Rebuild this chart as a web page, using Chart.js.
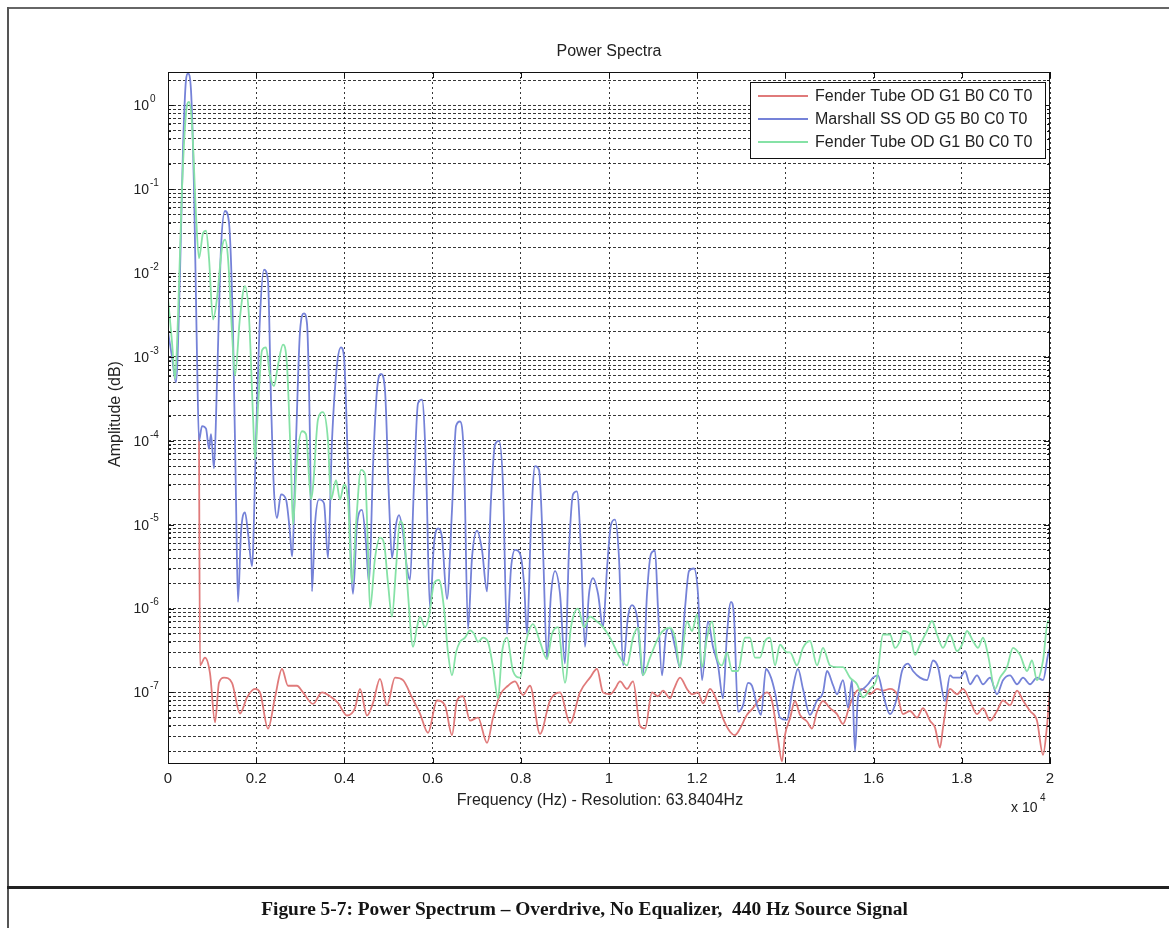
<!DOCTYPE html>
<html><head><meta charset="utf-8">
<script src="https://cdn.jsdelivr.net/npm/chart.js@4.4.0/dist/chart.umd.min.js"></script>
<style>
html,body{margin:0;padding:0;background:#fff;width:1169px;height:928px;overflow:hidden;}
#frameTop{position:absolute;left:7px;top:7px;width:1162px;height:2px;background:#666;}
#frameLeft{position:absolute;left:7px;top:7px;width:2px;height:921px;background:#555;}
#frameBottom{position:absolute;left:7px;top:886px;width:1162px;height:3px;background:#222;}
#wrap{position:absolute;left:0;top:0;width:1169px;height:880px;}
#caption{position:absolute;left:0;top:898px;width:1169px;text-align:center;font:bold 19.4px "Liberation Serif","Times New Roman",serif;color:#151515;white-space:pre;}
</style></head>
<body>
<div id="wrap"><canvas id="c" width="1169" height="880"></canvas></div>
<div id="frameTop"></div><div id="frameLeft"></div><div id="frameBottom"></div>
<div id="caption">Figure 5-7: Power Spectrum – Overdrive, No Equalizer,  440 Hz Source Signal</div>
<script>
// ---- data (frequency Hz, amplitude) ----
const seriesLabels = ['Fender Tube OD G1 B0 C0 T0','Marshall SS OD G5 B0 C0 T0','Fender Tube OD G1 B0 C0 T0'];
const seriesColors = ['#e07a7a','#7582d8','#86e2a6'];
const xTickValues = [0,2000,4000,6000,8000,10000,12000,14000,16000,18000,20000];
const xTickLabels = ['0','0.2','0.4','0.6','0.8','1','1.2','1.4','1.6','1.8','2'];
const yDecades = [-8,-7,-6,-5,-4,-3,-2,-1,0];
const yLabelDecades = [-7,-6,-5,-4,-3,-2,-1,0];
const yMin = 1.4e-8, yMax = 2.5;

const redSpectrum = [[703,1.2e-4],[726,2.1e-7],[839,2.6e-7],[952,1.7e-7],[1066,4.4e-8],[1156,1.3e-7],[1270,1.5e-7],[1451,1.3e-7],[1633,5.6e-8],[1791,8.7e-8],[1973,1.1e-7],[2086,1e-7],[2268,3.7e-8],[2426,8.7e-8],[2585,1.9e-7],[2721,1.2e-7],[2925,1.2e-7],[3061,1e-7],[3288,7.3e-8],[3492,1e-7],[3674,9e-8],[3855,7.5e-8],[4059,5.3e-8],[4240,6.5e-8],[4354,1.1e-7],[4513,5.3e-8],[4649,7.5e-8],[4807,1.45e-7],[4966,7e-8],[5147,1.5e-7],[5329,1.4e-7],[5533,8.7e-8],[5714,5.6e-8],[5896,3.3e-8],[6100,8e-8],[6281,7e-8],[6440,3.1e-8],[6553,8e-8],[6689,9e-8],[6848,4.6e-8],[7030,5e-8],[7234,2.5e-8],[7370,5e-8],[7528,9.3e-8],[7710,1.2e-7],[7869,1.35e-7],[8050,9.3e-8],[8209,1.2e-7],[8435,3.2e-8],[8662,8e-8],[8889,1e-7],[9116,4.3e-8],[9342,1e-7],[9569,1.5e-7],[9728,1.9e-7],[9864,1e-7],[10023,9.5e-8],[10136,1.1e-7],[10250,1.35e-7],[10408,1.1e-7],[10545,1.35e-7],[10703,4e-8],[10817,3.7e-8],[10975,1e-7],[11111,9e-8],[11225,1.05e-7],[11384,8.5e-8],[11474,1.1e-7],[11610,1.5e-7],[11769,1.1e-7],[11882,9.5e-8],[12018,1e-7],[12132,7.4e-8],[12290,1.1e-7],[12449,7.9e-8],[12585,4.9e-8],[12744,3.4e-8],[12857,3.1e-8],[12970,3.7e-8],[13129,5.4e-8],[13265,6.5e-8],[13424,8.5e-8],[13583,1e-7],[13696,7.9e-8],[13832,2.8e-8],[13923,1.5e-8],[13991,3.1e-8],[14104,4.9e-8],[14218,7.9e-8],[14331,5.4e-8],[14490,4.5e-8],[14603,3.7e-8],[14717,5.9e-8],[14853,7.9e-8],[15011,6.5e-8],[15170,5.5e-8],[15306,4.2e-8],[15465,7.2e-8],[15624,1.05e-7],[15760,1.1e-7],[15918,9.5e-8],[16077,1.1e-7],[16213,1.05e-7],[16372,1.1e-7],[16531,9.5e-8],[16667,5.5e-8],[16825,6e-8],[16984,5e-8],[17120,6.5e-8],[17279,4.6e-8],[17392,3.8e-8],[17506,2.2e-8],[17574,3.8e-8],[17733,1.1e-7],[17891,9.5e-8],[18027,1.1e-7],[18186,7.9e-8],[18345,5.5e-8],[18481,6.5e-8],[18640,4.6e-8],[18798,6e-8],[18934,8e-8],[19093,7e-8],[19252,1.05e-7],[19388,8e-8],[19547,6e-8],[19705,4.6e-8],[19842,1.8e-8],[19932,4e-8],[20000,1.15e-7]];

const blueSpectrum = [[0,2e-3],[91,1e-3],[181,5e-4],[272,1e-2],[340,0.3],[408,2.0],[454,2.4],[522,1.5],[590,0.1],[658,1e-3],[703,1e-4],[771,1.5e-4],[862,1.4e-4],[930,8e-5],[975,1.2e-4],[1043,4.7e-5],[1111,5e-4],[1202,0.02],[1293,0.055],[1383,0.04],[1474,2e-3],[1542,2e-5],[1587,1.2e-6],[1655,8e-6],[1746,1.4e-5],[1814,8e-6],[1905,3.2e-6],[1995,1e-4],[2086,3e-3],[2177,0.011],[2268,8e-3],[2336,3e-4],[2404,2.5e-5],[2472,1.2e-5],[2562,2.3e-5],[2676,2e-5],[2766,8e-6],[2812,4.2e-6],[2903,1e-4],[2993,2e-3],[3084,3.3e-3],[3152,2.5e-3],[3220,1e-4],[3265,1.6e-6],[3333,1e-5],[3424,2e-5],[3537,1.8e-5],[3628,4e-6],[3719,1e-4],[3832,8e-4],[3923,1.3e-3],[3991,1e-3],[4082,5e-5],[4195,1.5e-6],[4286,1e-5],[4399,1.5e-5],[4490,6e-6],[4558,2e-6],[4649,5e-5],[4739,4e-4],[4830,6.3e-4],[4921,4e-4],[5011,2e-5],[5079,4e-6],[5170,1e-5],[5238,1.3e-5],[5329,8e-6],[5420,3e-6],[5488,2.2e-6],[5578,3e-5],[5669,2.8e-4],[5760,3.1e-4],[5850,5e-5],[5941,1e-6],[6032,6e-6],[6123,9e-6],[6213,7e-6],[6327,1.3e-6],[6440,1.5e-5],[6531,1.5e-4],[6621,1.7e-4],[6712,6e-5],[6803,5.7e-7],[6893,4e-6],[7007,8.5e-6],[7120,5e-6],[7234,1.6e-6],[7324,2e-5],[7415,9e-5],[7506,1e-4],[7596,3e-5],[7687,5e-7],[7778,3e-6],[7869,5e-6],[7982,4.5e-6],[8073,2e-6],[8141,5e-7],[8231,1e-5],[8322,5e-5],[8413,4.5e-5],[8504,5e-6],[8594,2.5e-7],[8685,1.5e-6],[8776,2.8e-6],[8889,1.5e-6],[9002,2.2e-7],[9093,5e-6],[9184,2.3e-5],[9274,2.5e-5],[9365,5e-6],[9456,3.5e-7],[9547,1.5e-6],[9637,2.3e-6],[9751,1.5e-6],[9864,6e-7],[9955,3e-6],[10045,1e-5],[10136,1.15e-5],[10227,4e-6],[10318,2.1e-7],[10431,8e-7],[10522,1.1e-6],[10635,8e-7],[10771,1.6e-7],[10862,1.5e-6],[10953,4.5e-6],[11043,4.9e-6],[11111,1e-6],[11202,1.6e-7],[11293,5e-7],[11384,5.9e-7],[11497,3.5e-7],[11610,2e-7],[11723,1e-6],[11814,2.8e-6],[11927,3e-6],[12018,1.5e-6],[12109,1.4e-7],[12245,7e-7],[12358,3.5e-7],[12472,2.1e-7],[12585,8.5e-8],[12676,5e-7],[12766,1.2e-6],[12835,8e-7],[12925,5.9e-8],[13039,7e-8],[13152,1.3e-7],[13243,1.2e-7],[13356,7e-8],[13447,5.4e-8],[13560,1.9e-7],[13674,1.5e-7],[13764,1e-7],[13878,5e-8],[14036,4.7e-8],[14150,1e-7],[14286,1.9e-7],[14399,1.1e-7],[14558,5.4e-8],[14717,8e-8],[14853,1e-7],[14943,1.8e-7],[15085,1.2e-7],[15170,9.5e-8],[15306,1.4e-7],[15420,6.6e-8],[15510,1.4e-7],[15578,2e-8],[15646,8.7e-8],[15760,1.1e-7],[15873,1.25e-7],[15987,1.5e-7],[16100,1.6e-7],[16213,9.5e-8],[16372,5.5e-8],[16531,8.7e-8],[16644,1.8e-7],[16780,2.2e-7],[16893,1.8e-7],[17052,1.5e-7],[17211,1.4e-7],[17347,2.4e-7],[17461,2e-7],[17619,7.9e-8],[17733,1.6e-7],[17801,1.5e-7],[17959,1.5e-7],[18073,1.8e-7],[18186,1.25e-7],[18345,1.6e-7],[18481,1.25e-7],[18640,1.5e-7],[18798,9.5e-8],[18934,1.4e-7],[19093,1.6e-7],[19252,1.25e-7],[19388,1.5e-7],[19547,1.25e-7],[19705,1.5e-7],[19842,1.4e-7],[19955,2.8e-7],[20000,3.4e-7]];

const greenSpectrum = [[0,5e-3],[91,1.5e-3],[159,5.5e-4],[227,3e-3],[317,0.1],[408,0.8],[476,1.1],[544,0.6],[635,0.05],[703,0.015],[794,0.03],[862,0.032],[930,0.015],[1020,2.8e-3],[1111,5e-3],[1224,0.02],[1293,0.025],[1361,0.015],[1451,2e-3],[1519,6e-4],[1633,3e-3],[1746,7e-3],[1837,3e-3],[1927,2e-4],[1973,6e-5],[2041,2.5e-4],[2132,1.2e-3],[2222,1.3e-3],[2313,6e-4],[2404,4.5e-4],[2494,8e-4],[2608,1.4e-3],[2698,8e-4],[2789,5e-5],[2834,1e-5],[2925,6e-5],[3039,1.3e-4],[3129,1.2e-4],[3243,2e-5],[3288,2.8e-5],[3401,1.8e-4],[3515,2.2e-4],[3628,1e-4],[3696,2e-5],[3810,3.4e-5],[3900,2e-5],[3991,3e-5],[4082,2e-5],[4172,2e-6],[4263,1e-5],[4376,4.5e-5],[4467,4e-5],[4535,5e-6],[4581,1e-6],[4694,4e-6],[4807,7e-6],[4898,6e-6],[4989,2e-6],[5079,8e-7],[5170,3e-6],[5261,1.1e-5],[5351,8e-6],[5442,1.5e-6],[5556,3.5e-7],[5646,6e-7],[5714,8e-7],[5828,6e-7],[5918,8e-7],[6032,2e-6],[6145,2.2e-6],[6259,1e-6],[6349,3e-7],[6440,1.6e-7],[6531,3e-7],[6621,4e-7],[6735,4.5e-7],[6848,5.5e-7],[6939,5e-7],[7030,4e-7],[7143,4.5e-7],[7256,4e-7],[7370,2e-7],[7483,8.5e-8],[7574,3e-7],[7687,4.5e-7],[7823,1.8e-7],[7982,1.5e-7],[8118,4e-7],[8277,6.5e-7],[8435,4e-7],[8594,2.5e-7],[8708,5e-7],[8844,6e-7],[9002,1.3e-7],[9138,6e-7],[9297,1e-6],[9433,6e-7],[9569,8e-7],[9728,7e-7],[9864,6e-7],[10023,4.5e-7],[10250,2.6e-7],[10408,2.1e-7],[10545,4.5e-7],[10658,5.9e-7],[10771,1.6e-7],[10930,2.6e-7],[11157,4.9e-7],[11384,5.9e-7],[11497,4.5e-7],[11610,2e-7],[11769,7e-7],[11882,5.4e-7],[11996,8.5e-7],[12109,2e-7],[12222,4.5e-7],[12336,7e-7],[12449,2.6e-7],[12562,2.1e-7],[12676,3e-7],[12789,1.8e-7],[12925,1.8e-7],[13084,4.5e-7],[13197,4.5e-7],[13311,2.6e-7],[13424,2.6e-7],[13538,4.1e-7],[13651,4.5e-7],[13764,2.1e-7],[13878,3.7e-7],[14036,3e-7],[14104,3e-7],[14263,2.1e-7],[14399,3.4e-7],[14558,4.1e-7],[14717,2.1e-7],[14853,3.4e-7],[15011,2.1e-7],[15170,2e-7],[15306,2e-7],[15465,1.5e-7],[15624,1.25e-7],[15760,8.7e-8],[15918,1.1e-7],[16077,1.5e-7],[16213,4.9e-7],[16372,4.9e-7],[16485,3.4e-7],[16599,4.1e-7],[16667,5.4e-7],[16825,4.9e-7],[16939,2.8e-7],[17052,3.7e-7],[17211,5.4e-7],[17324,7.1e-7],[17438,4.9e-7],[17574,3.4e-7],[17733,4.9e-7],[17891,3.1e-7],[18005,3.7e-7],[18118,5.4e-7],[18254,4.1e-7],[18368,3.4e-7],[18481,4.5e-7],[18594,2.8e-7],[18753,1.1e-7],[18866,1.5e-7],[19025,2e-7],[19161,3.4e-7],[19320,2.8e-7],[19479,1.8e-7],[19592,2.4e-7],[19705,1.4e-7],[19842,2.4e-7],[19955,7.1e-7],[20000,6.5e-7]];

// ---- helpers ----
const toPts = arr => arr.map(p => ({x: p[0], y: p[1]}));
const yTickValues = [];
yDecades.forEach(e => { for (let m = 1; m <= 9; m++) { const v = m * Math.pow(10, e); if (v >= yMin && v <= yMax) yTickValues.push(v); } });
const FONT = '"Liberation Sans", Arial, Helvetica, sans-serif';
const TXT = '#222';

const overlay = {
  id: 'overlay',
  afterDraw(chart) {
    const {ctx, chartArea: a, scales: {x, y}} = chart;
    ctx.save();
    ctx.setLineDash([]);
    ctx.strokeStyle = '#111';
    ctx.lineWidth = 1;
    // tick marks (inward)
    ctx.beginPath();
    xTickValues.forEach(v => {
      const px = Math.round(x.getPixelForValue(v)) + 0.5;
      ctx.moveTo(px, a.bottom); ctx.lineTo(px, a.bottom - 6);
      ctx.moveTo(px, a.top); ctx.lineTo(px, a.top + 6);
    });
    yTickValues.forEach(v => {
      const py = Math.round(y.getPixelForValue(v)) + 0.5;
      const isMajor = Math.abs(Math.log10(v) - Math.round(Math.log10(v))) < 1e-9;
      const L = isMajor ? 6 : 3;
      ctx.moveTo(a.left, py); ctx.lineTo(a.left + L, py);
      ctx.moveTo(a.right, py); ctx.lineTo(a.right - L, py);
    });
    ctx.stroke();
    // axes box
    ctx.strokeRect(a.left + 0.5, a.top + 0.5, a.right - a.left - 1, a.bottom - a.top - 1);

    ctx.fillStyle = TXT;
    // y decade labels 10^n
    yLabelDecades.forEach(e => {
      const py = y.getPixelForValue(Math.pow(10, e));
      ctx.font = '14px ' + FONT;
      ctx.textBaseline = 'middle';
      ctx.textAlign = 'right';
      ctx.fillText('10', 149, py + 1);
      ctx.font = '10px ' + FONT;
      ctx.textAlign = 'left';
      ctx.fillText(String(e), 150, py - 6);
    });
    // title
    ctx.font = '16px ' + FONT;
    ctx.textAlign = 'center';
    ctx.textBaseline = 'middle';
    ctx.fillText('Power Spectra', (a.left + a.right) / 2, 52);
    // x title
    ctx.font = '16px ' + FONT;
    ctx.fillText('Frequency (Hz) - Resolution: 63.8404Hz', 600, 801);
    // x10^4
    ctx.textAlign = 'left';
    ctx.font = '14px ' + FONT;
    ctx.fillText('x 10', 1011, 808);
    ctx.font = '10px ' + FONT;
    ctx.fillText('4', 1040, 798);
    // y title
    ctx.save();
    ctx.translate(116, 414);
    ctx.rotate(-Math.PI / 2);
    ctx.font = '16px ' + FONT;
    ctx.textAlign = 'center';
    ctx.fillText('Amplitude (dB)', 0, 0);
    ctx.restore();
    // legend
    const lx = 750, ly = 82, lw = 295, lh = 76;
    ctx.fillStyle = '#fff';
    ctx.fillRect(lx, ly, lw, lh);
    ctx.strokeStyle = '#111';
    ctx.lineWidth = 1;
    ctx.strokeRect(lx + 0.5, ly + 0.5, lw, lh);
    const rows = [96, 119, 142];
    seriesLabels.forEach((lab, i) => {
      ctx.strokeStyle = seriesColors[i];
      ctx.lineWidth = 1.8;
      ctx.beginPath(); ctx.moveTo(758, rows[i]); ctx.lineTo(808, rows[i]); ctx.stroke();
      ctx.fillStyle = TXT;
      ctx.font = '16px ' + FONT;
      ctx.textAlign = 'left';
      ctx.textBaseline = 'middle';
      ctx.fillText(lab, 815, rows[i] + 1);
    });
    ctx.restore();
  }
};

const spectra = [redSpectrum, blueSpectrum, greenSpectrum];
const drawOrder = [2, 1, 0];

new Chart(document.getElementById('c'), {
  type: 'line',
  data: {
    datasets: spectra.map((s, i) => ({
      label: seriesLabels[i],
      data: toPts(s),
      borderColor: seriesColors[i],
      backgroundColor: seriesColors[i],
      borderWidth: 1.8,
      pointRadius: 0,
      cubicInterpolationMode: 'monotone',
      fill: false,
      order: drawOrder[i]
    }))
  },
  options: {
    responsive: false,
    animation: false,
    devicePixelRatio: 1,
    layout: {padding: {left: 0, right: 119, top: 72, bottom: 36}},
    plugins: {legend: {display: false}, title: {display: false}, tooltip: {enabled: false}},
    scales: {
      x: {
        type: 'linear', min: 0, max: 20000,
        afterBuildTicks: s => { s.ticks = xTickValues.map(v => ({value: v})); },
        afterFit: s => { s.height = 80; },
        ticks: {
          autoSkip: false, maxRotation: 0, padding: 6, color: TXT,
          font: {family: FONT, size: 15},
          callback: (v) => xTickLabels[xTickValues.indexOf(v)]
        },
        grid: {color: 'rgba(20,20,20,0.85)', lineWidth: 1, drawTicks: false},
        border: {display: false, dash: [2, 3]}
      },
      y: {
        type: 'logarithmic', min: yMin, max: yMax,
        afterBuildTicks: s => { s.ticks = yTickValues.map(v => ({value: v})); },
        afterFit: s => { s.width = 168; },
        ticks: {display: false},
        grid: {color: 'rgba(20,20,20,0.85)', lineWidth: 1, drawTicks: false},
        border: {display: false, dash: [3, 2]}
      }
    }
  },
  plugins: [overlay]
});
</script>
</body></html>
